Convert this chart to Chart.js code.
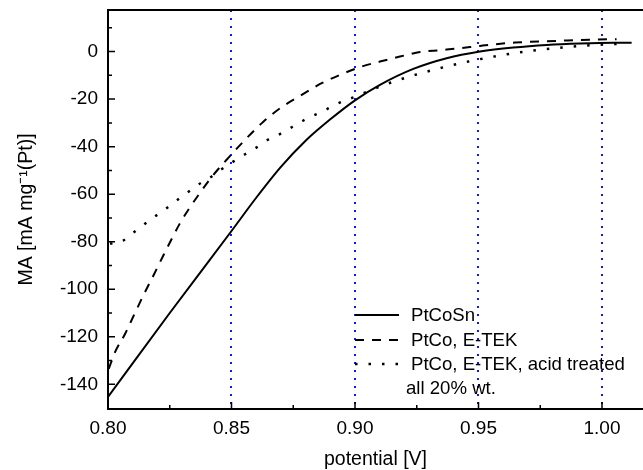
<!DOCTYPE html>
<html>
<head>
<meta charset="utf-8">
<script src="https://cdn.jsdelivr.net/npm/chart.js@4.4.1/dist/chart.umd.min.js"></script>
<style>
  html, body { margin: 0; padding: 0; background: #fff; }
  #wrap { width: 643px; height: 470px; position: relative; }
</style>
</head>
<body>
<div id="wrap"><canvas id="canvas-ma" width="643" height="470"></canvas></div>
<script>
// PtCoSn (solid)
const potPtCoSn = [0.800, 0.825, 0.850, 0.860, 0.870, 0.880, 0.890, 0.900, 0.9101, 0.9236, 0.9371, 0.9506, 0.9641, 0.9777, 0.9911, 1.0046, 1.012]
const maPtCoSn = [-145.3, -110, -75.5, -61.5, -48.5, -37.5, -28.5, -20.5, -14, -7.3, -2.8, 0, 1.7, 2.8, 3.4, 3.7, 3.7]

// PtCo, E-TEK (dashed)
const potEtek = [0.8003, 0.8028, 0.807, 0.8105, 0.8144, 0.8185, 0.8225, 0.829, 0.833, 0.837, 0.8418, 0.8489, 0.8558, 0.8629, 0.8703, 0.878, 0.8865, 0.8946, 0.9027, 0.9101, 0.9182, 0.9263, 0.9344, 0.9425, 0.9506, 0.9648, 0.9817, 0.9978, 1.0059]
const maEtek = [-133.5, -126.6, -118.6, -110.9, -102.4, -94, -85.6, -72.5, -65.8, -59.8, -53, -44.5, -36.8, -29.5, -23.4, -18.5, -13.3, -9.5, -6.3, -4.2, -2.1, -0.2, 0.6, 1.4, 2.4, 3.8, 4.5, 5.1, 5.2]

// PtCo, E-TEK, acid treated (dotted)
const potAcid = [0.8008, 0.8046, 0.8096, 0.8139, 0.8183, 0.8231, 0.8275, 0.8321, 0.8368, 0.8415, 0.846, 0.8507, 0.8555, 0.8602, 0.8645, 0.8696, 0.8791, 0.8885, 0.8933, 0.900, 0.9074, 0.9169, 0.9317, 0.9459, 0.960, 0.9742, 0.9884, 0.9978, 1.010]
const maAcid = [-80.8, -80.4, -76.7, -73.3, -69.9, -66.4, -62.9, -59.4, -55.8, -52.9, -49.5, -46.3, -43.2, -40.3, -37.2, -34.7, -29, -24.3, -21.7, -19, -15.8, -12.2, -7.7, -4.2, -1.4, 0.7, 2.1, 2.8, 3.4]

const xTicks = [0.80, 0.825, 0.85, 0.875, 0.90, 0.925, 0.95, 0.975, 1.00]
const xLabelled = [0.80, 0.85, 0.90, 0.95, 1.00]
const xGridAt = [0.85, 0.90, 0.95, 1.00]
const yTicks = [-140, -130, -120, -110, -100, -90, -80, -70, -60, -50, -40, -30, -20, -10, 0, 10]
const yLabelled = [-140, -120, -100, -80, -60, -40, -20, 0]

const legendNote = 'all 20% wt.'

const FONT = '"Liberation Sans", Arial, sans-serif'

function pairs(xs, ys) {
  return xs.map((v, i) => ({ x: v, y: ys[i] }))
}

function same(a, b) {
  return Math.abs(a - b) < 1e-6
}

// axis frame + inward ticks
const frameAndTicks = {
  id: 'frameAndTicks',
  afterDatasetsDraw(chart) {
    const { ctx, chartArea: a, scales: { x, y } } = chart
    ctx.save()
    ctx.strokeStyle = '#000'
    ctx.lineWidth = 2
    ctx.beginPath()
    ctx.moveTo(a.right + 2, a.top)
    ctx.lineTo(a.left, a.top)
    ctx.lineTo(a.left, a.bottom)
    ctx.lineTo(a.right + 2, a.bottom)
    ctx.stroke()

    ctx.lineWidth = 1.5
    ctx.beginPath()
    yTicks.forEach(v => {
      const py = y.getPixelForValue(v)
      const len = yLabelled.some(l => same(l, v)) ? 7 : 4
      ctx.moveTo(a.left, py)
      ctx.lineTo(a.left + len, py)
    })
    xTicks.forEach(v => {
      const px = x.getPixelForValue(v)
      const len = xLabelled.some(l => same(l, v)) ? 7 : 4
      ctx.moveTo(px, a.bottom)
      ctx.lineTo(px, a.bottom - len)
    })
    ctx.stroke()
    ctx.restore()
  }
}

// legend inside the plot, lower right
const insideLegend = {
  id: 'insideLegend',
  afterDraw(chart) {
    const { ctx } = chart
    const lineX0 = 355
    const lineX1 = 399
    const textX = 411
    const rowY = [315, 340, 364]
    ctx.save()
    ctx.font = '18.6px ' + FONT
    ctx.fillStyle = '#000'
    ctx.textBaseline = 'middle'
    chart.data.datasets.forEach((ds, i) => {
      ctx.strokeStyle = '#000'
      ctx.lineWidth = ds.borderWidth
      ctx.setLineDash(ds.borderDash || [])
      ctx.beginPath()
      ctx.moveTo(lineX0, rowY[i])
      ctx.lineTo(lineX1, rowY[i])
      ctx.stroke()
      ctx.setLineDash([])
      ctx.fillText(ds.label, textX, rowY[i] + 1)
    })
    ctx.fillText(legendNote, 406, 389)
    ctx.restore()
  }
}

const canvas = document.getElementById('canvas-ma')

new Chart(canvas, {
  type: 'line',
  data: {
    datasets: [
      {
        label: 'PtCoSn',
        data: pairs(potPtCoSn, maPtCoSn),
        borderColor: '#000',
        borderWidth: 2,
        pointRadius: 0,
        fill: false,
        cubicInterpolationMode: 'monotone'
      },
      {
        label: 'PtCo, E-TEK',
        data: pairs(potEtek, maEtek),
        borderColor: '#000',
        borderWidth: 2,
        borderDash: [9, 8],
        pointRadius: 0,
        fill: false,
        cubicInterpolationMode: 'monotone'
      },
      {
        label: 'PtCo, E-TEK, acid treated',
        data: pairs(potAcid, maAcid),
        borderColor: '#000',
        borderWidth: 2.5,
        borderDash: [2.5, 11],
        pointRadius: 0,
        fill: false,
        cubicInterpolationMode: 'monotone'
      }
    ]
  },
  options: {
    responsive: false,
    animation: false,
    layout: { padding: { top: 10, right: 0, bottom: 0, left: 0 } },
    plugins: {
      legend: { display: false },
      tooltip: { enabled: false }
    },
    scales: {
      x: {
        type: 'linear',
        min: 0.80,
        max: 1.0166,
        afterBuildTicks: s => { s.ticks = xTicks.map(v => ({ value: v })) },
        afterFit: s => {
          s.height = 61
          s.paddingLeft = 0
          s.paddingRight = 0
        },
        ticks: {
          autoSkip: false,
          maxRotation: 0,
          padding: 8,
          color: '#000',
          font: { family: FONT, size: 19 },
          callback: v => xLabelled.some(l => same(l, v)) ? v.toFixed(2) : ''
        },
        grid: {
          drawTicks: false,
          lineWidth: 2,
          color: c => (c.tick && xGridAt.some(g => same(g, c.tick.value))) ? 'rgb(20, 20, 240)' : 'rgba(0,0,0,0)'
        },
        border: { display: false, dash: [2, 6] },
        title: {
          display: true,
          text: 'potential [V]',
          color: '#000',
          font: { family: FONT, size: 19.5, lineHeight: 1 },
          padding: { top: 0, bottom: 1 }
        }
      },
      y: {
        min: -150.4,
        max: 17.5,
        afterBuildTicks: s => { s.ticks = yTicks.map(v => ({ value: v })) },
        afterFit: s => {
          s.width = 108
          s.paddingTop = 0
          s.paddingBottom = 0
        },
        ticks: {
          autoSkip: false,
          padding: 10,
          color: '#000',
          font: { family: FONT, size: 19 },
          callback: v => yLabelled.includes(v) ? String(v) : ''
        },
        grid: { display: false, drawTicks: false },
        border: { display: false },
        title: {
          display: true,
          text: 'MA [mA mg⁻¹(Pt)]',
          color: '#000',
          font: { family: FONT, size: 19.5, lineHeight: 1 },
          padding: { top: 16.5, bottom: 0 }
        }
      }
    }
  },
  plugins: [frameAndTicks, insideLegend]
})
</script>
</body>
</html>
